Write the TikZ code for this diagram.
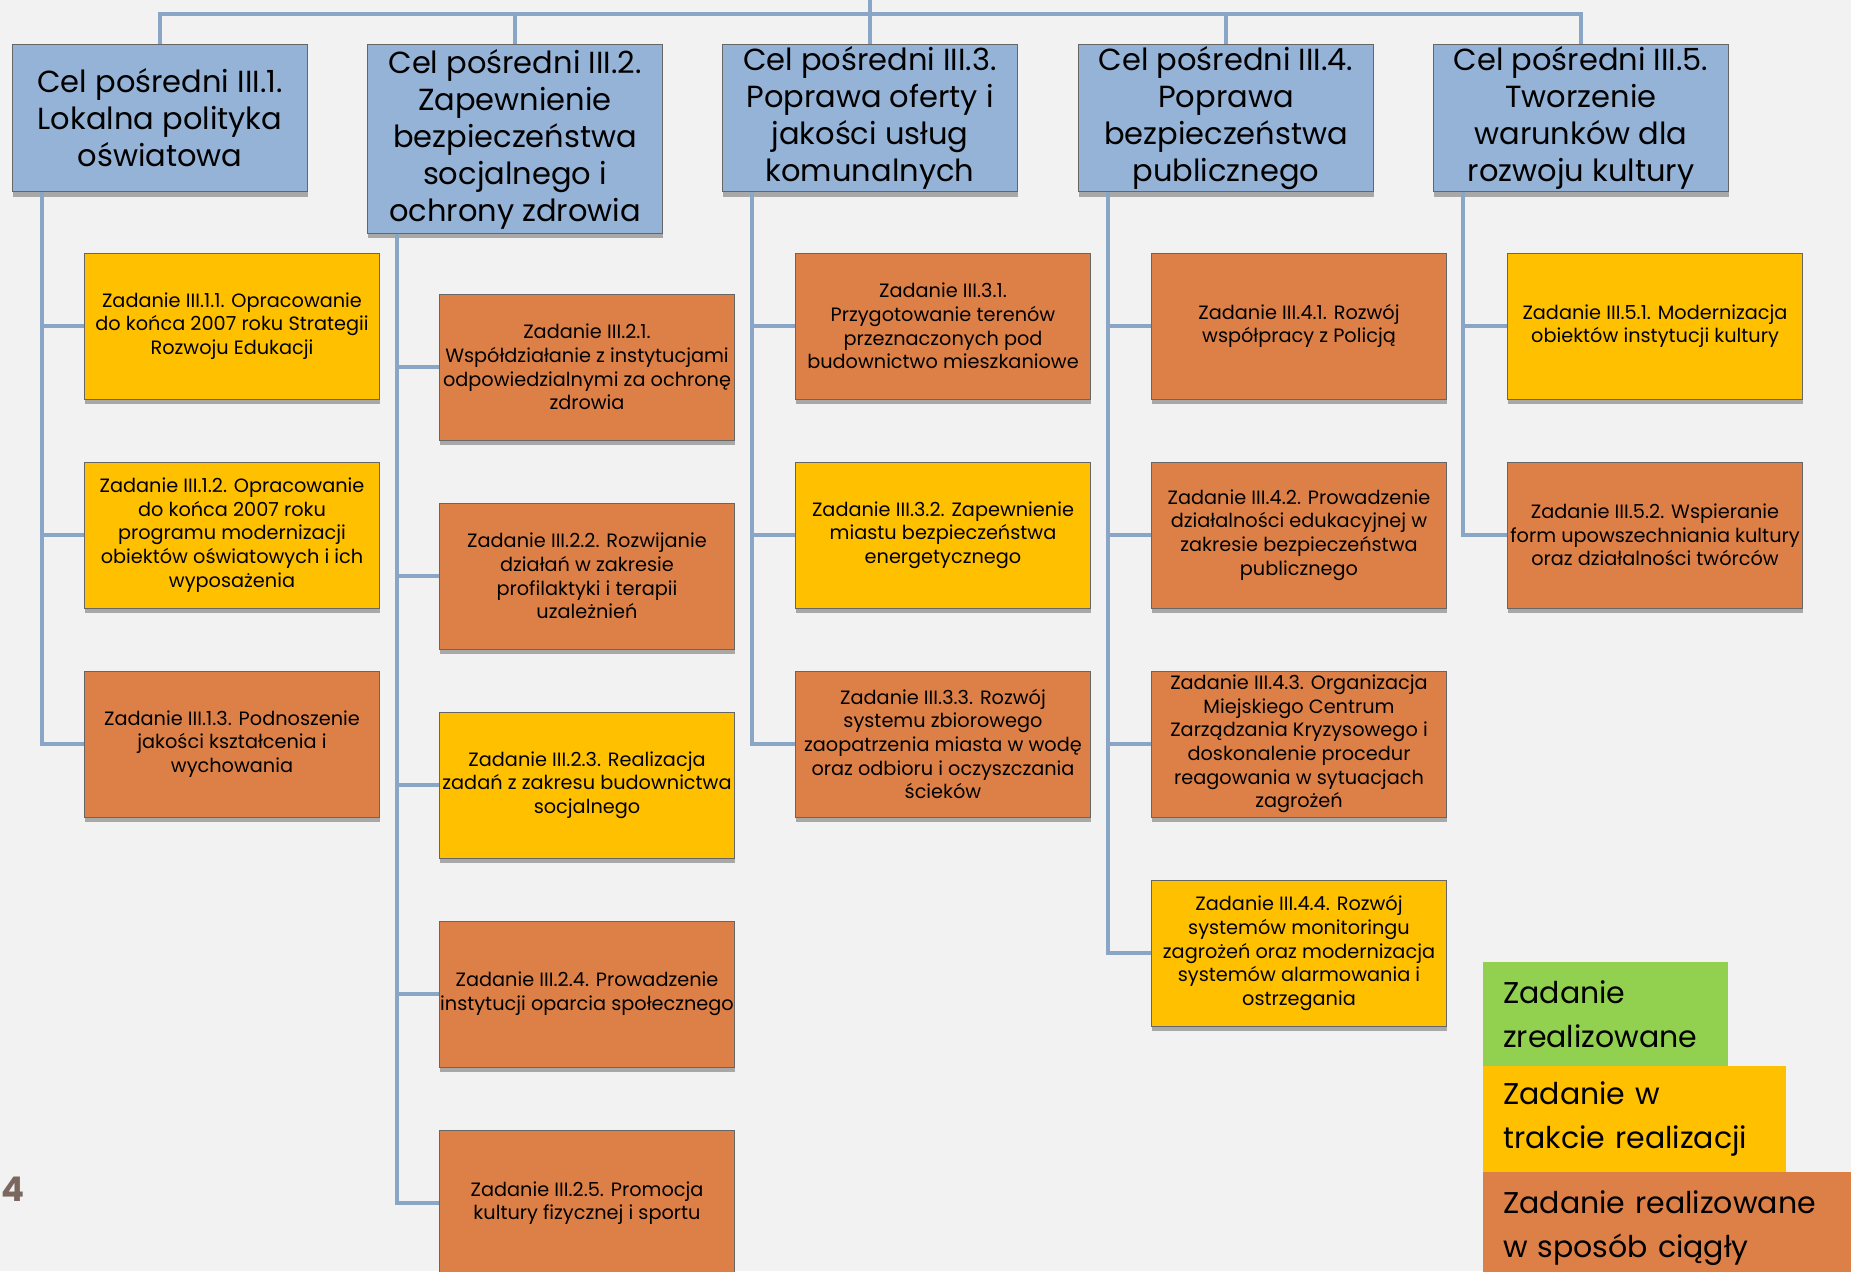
\documentclass[tikz,border=0pt]{standalone}
\usepackage{fontspec}
\setmainfont{Poppins}
\usetikzlibrary{shadows}

\definecolor{bgcol}{RGB}{242,242,242}
\definecolor{linkblue}{RGB}{137,166,198}
\definecolor{celblue}{RGB}{149,179,215}
\definecolor{zyellow}{RGB}{255,192,0}
\definecolor{zorange}{RGB}{221,128,71}
\definecolor{zgreen}{RGB}{146,208,80}
\definecolor{pagenum}{RGB}{122,104,94}

\newcommand{\celfont}{\fontsize{30.5}{37}\selectfont}
\newcommand{\zadfont}{\fontsize{19.3}{23.6}\selectfont}
\newcommand{\legfont}{\fontsize{30}{44}\selectfont}

\begin{document}
\begin{tikzpicture}[
		x=1pt, y=-1pt,
		link/.style={draw=linkblue, line width=3.5pt},
		boxshadow/.style={drop shadow={shadow xshift=0pt, shadow yshift=-5pt, opacity=0.3, fill=black}},
		cel/.style={rectangle, draw=black!60, fill=celblue, line width=1pt, minimum width=295pt, minimum height=147pt, inner sep=0pt, font=\celfont, align=center, boxshadow},
		zad/.style={rectangle, draw=black!60, line width=1pt, minimum width=295pt, minimum height=146pt, inner sep=0pt, font=\zadfont, align=center, boxshadow},
		done/.style={zad, fill=zgreen},
		ongoing/.style={zad, fill=zyellow},
		continuous/.style={zad, fill=zorange},
		legend/.style={rectangle, anchor=north west, inner xsep=20pt, inner ysep=0pt, font=\legfont, align=left}
		]
		
		% background and page size
		\fill[bgcol] (0,0) rectangle (1851,1271);
		\useasboundingbox (0,0) rectangle (1851,1271);
		
		% Intermediate goals (top row)
		\node[cel] (cel1) at (160, 118) {Cel pośredni III.1.\\Lokalna polityka\\oświatowa};
		\node[cel, minimum height=188pt] (cel2) at (515, 139) {Cel pośredni III.2.\\Zapewnienie\\bezpieczeństwa\\socjalnego i\\ochrony zdrowia};
		\node[cel] (cel3) at (870, 118) {Cel pośredni III.3.\\Poprawa oferty i\\jakości usług\\komunalnych};
		\node[cel] (cel4) at (1226, 118) {Cel pośredni III.4.\\Poprawa\\bezpieczeństwa\\publicznego};
		\node[cel] (cel5) at (1581, 118) {Cel pośredni III.5.\\Tworzenie\\warunków dla\\rozwoju kultury};
		
		% Tasks III.1
		\node[ongoing] (z11) at (232, 326) {Zadanie III.1.1. Opracowanie\\do końca 2007 roku Strategii\\Rozwoju Edukacji};
		\node[ongoing] (z12) at (232, 535) {Zadanie III.1.2. Opracowanie\\do końca 2007 roku\\programu modernizacji\\obiektów oświatowych i ich\\wyposażenia};
		\node[continuous] (z13) at (232, 744) {Zadanie III.1.3. Podnoszenie\\jakości kształcenia i\\wychowania};
		
		% Tasks III.2
		\node[continuous] (z21) at (587, 367) {Zadanie III.2.1.\\Współdziałanie z instytucjami\\odpowiedzialnymi za ochronę\\zdrowia};
		\node[continuous] (z22) at (587, 576) {Zadanie III.2.2. Rozwijanie\\działań w zakresie\\profilaktyki i terapii\\uzależnień};
		\node[ongoing] (z23) at (587, 785) {Zadanie III.2.3. Realizacja\\zadań z zakresu budownictwa\\socjalnego};
		\node[continuous] (z24) at (587, 994) {Zadanie III.2.4. Prowadzenie\\instytucji oparcia społecznego};
		\node[continuous] (z25) at (587, 1203) {Zadanie III.2.5. Promocja\\kultury fizycznej i sportu};
		
		% Tasks III.3
		\node[continuous] (z31) at (943, 326) {Zadanie III.3.1.\\Przygotowanie terenów\\przeznaczonych pod\\budownictwo mieszkaniowe};
		\node[ongoing] (z32) at (943, 535) {Zadanie III.3.2. Zapewnienie\\miastu bezpieczeństwa\\energetycznego};
		\node[continuous] (z33) at (943, 744) {Zadanie III.3.3. Rozwój\\systemu zbiorowego\\zaopatrzenia miasta w wodę\\oraz odbioru i oczyszczania\\ścieków};
		
		% Tasks III.4
		\node[continuous] (z41) at (1299, 326) {Zadanie III.4.1. Rozwój\\współpracy z Policją};
		\node[continuous] (z42) at (1299, 535) {Zadanie III.4.2. Prowadzenie\\działalności edukacyjnej w\\zakresie bezpieczeństwa\\publicznego};
		\node[continuous] (z43) at (1299, 744) {Zadanie III.4.3. Organizacja\\Miejskiego Centrum\\Zarządzania Kryzysowego i\\doskonalenie procedur\\reagowania w sytuacjach\\zagrożeń};
		\node[ongoing] (z44) at (1299, 953) {Zadanie III.4.4. Rozwój\\systemów monitoringu\\zagrożeń oraz modernizacja\\systemów alarmowania i\\ostrzegania};
		
		% Tasks III.5
		\node[ongoing] (z51) at (1655, 326) {Zadanie III.5.1. Modernizacja\\obiektów instytucji kultury};
		\node[continuous] (z52) at (1655, 535) {Zadanie III.5.2. Wspieranie\\form upowszechniania kultury\\oraz działalności twórców};
		
		% Legend
		\node[legend, fill=zgreen, minimum width=245pt, minimum height=104pt, text width=205pt] (lgdone) at (1483, 962) {Zadanie\\zrealizowane};
		\node[legend, fill=zyellow, minimum width=303pt, minimum height=106pt, text width=263pt] (lgongoing) at (1483, 1066) {Zadanie w\\trakcie realizacji};
		\node[legend, fill=zorange, minimum width=400pt, minimum height=112pt, text width=360pt] (lgcont) at (1483, 1172) {Zadanie realizowane\\w sposób ciągły};
		
		% Page number
		\node[font=\fontsize{34}{40}\selectfont\bfseries, text=pagenum] (page) at (13, 1189) {4};
		
		% Top bus
		\coordinate (top) at (870, 0);
		\coordinate (bus) at (870, 14);
		\draw[link] (top) -- (bus);
		\draw[link] (bus) -| (cel1.north);
		\draw[link] (bus) -| (cel2.north);
		\draw[link] (bus) -- (cel3.north);
		\draw[link] (bus) -| (cel4.north);
		\draw[link] (bus) -| (cel5.north);
		
		% Branches to tasks
		\draw[link] ([xshift=30pt]cel1.south west) |- (z11.west);
		\draw[link] ([xshift=30pt]cel1.south west) |- (z12.west);
		\draw[link] ([xshift=30pt]cel1.south west) |- (z13.west);
		
		\draw[link] ([xshift=30pt]cel2.south west) |- (z21.west);
		\draw[link] ([xshift=30pt]cel2.south west) |- (z22.west);
		\draw[link] ([xshift=30pt]cel2.south west) |- (z23.west);
		\draw[link] ([xshift=30pt]cel2.south west) |- (z24.west);
		\draw[link] ([xshift=30pt]cel2.south west) |- (z25.west);
		
		\draw[link] ([xshift=30pt]cel3.south west) |- (z31.west);
		\draw[link] ([xshift=30pt]cel3.south west) |- (z32.west);
		\draw[link] ([xshift=30pt]cel3.south west) |- (z33.west);
		
		\draw[link] ([xshift=30pt]cel4.south west) |- (z41.west);
		\draw[link] ([xshift=30pt]cel4.south west) |- (z42.west);
		\draw[link] ([xshift=30pt]cel4.south west) |- (z43.west);
		\draw[link] ([xshift=30pt]cel4.south west) |- (z44.west);
		
		\draw[link] ([xshift=30pt]cel5.south west) |- (z51.west);
		\draw[link] ([xshift=30pt]cel5.south west) |- (z52.west);
		
	\end{tikzpicture}
\end{document}
